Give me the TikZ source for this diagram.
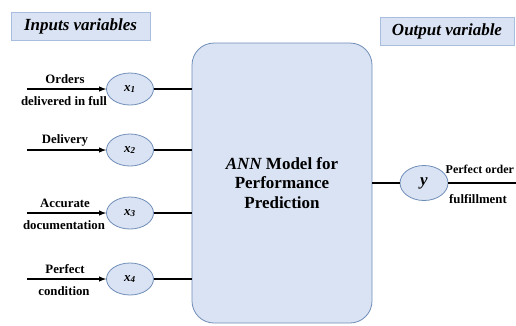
\documentclass[tikz,border=0pt]{standalone}
\usepackage{fontspec}
\setmainfont{Liberation Serif}
\usetikzlibrary{shapes.geometric}
\definecolor{paleblue}{HTML}{DAE3F3}
\definecolor{edgeblue}{HTML}{6F8DB8}
\definecolor{titleedge}{HTML}{A9BEDF}
\tikzset{
 titlebox/.style={draw=titleedge,fill=paleblue,line width=.6pt,
  minimum height=28pt,inner sep=0pt,font=\fontsize{17}{20}\selectfont\bfseries\itshape},
 varnode/.style={ellipse,draw=edgeblue,fill=paleblue,line width=.8pt,
  minimum width=47pt,minimum height=32pt,inner sep=0pt,
  font=\fontsize{13}{15}\selectfont\bfseries\itshape},
 modelbox/.style={draw=edgeblue,fill=paleblue,line width=.8pt,rounded corners=22pt,
  minimum width=180pt,minimum height=280pt,align=center,
  font=\fontsize{17}{19.5}\selectfont\bfseries},
 lbl/.style={font=\fontsize{12.8}{15}\selectfont\bfseries,inner sep=0pt}
}
\begin{document}
\begin{tikzpicture}[x=1pt,y=1pt,line width=1.4pt,>=latex,line cap=butt]
 \useasboundingbox (0,0) rectangle (516,-325);
 \node[titlebox,minimum width=139pt] (intitle) at (80.5,-26) {Inputs variables};
 \node[titlebox,minimum width=134pt] (outtitle) at (447,-31) {Output variable};
 \node[modelbox] (ann) at (282,-183)
  {{\itshape ANN} Model for\\Performance\\Prediction};
 % input variables
 \foreach \i/\yy/\above/\below in {1/89/Orders/delivered in full,
   2/150/Delivery/,3/213/Accurate/documentation,4/279/Perfect/condition}{
  \node[varnode] (x\i) at (130,-\yy) {x\textsubscript{\i}};
  \coordinate (in\i) at (27,-\yy);
  \draw[->] (in\i) -- (x\i);
  \draw (x\i) -- (x\i -| ann.west);
  \node[lbl] (top\i) at (65,-\yy+10) {\above};
  \node[lbl] (bot\i) at (64,-\yy-12) {\below};
 }
 % output variable
 \node[varnode,minimum width=48pt,minimum height=35pt,
  font=\fontsize{17}{20}\selectfont\bfseries\itshape] (y) at (424,-183) {y};
 \coordinate (out) at (516,-183);
 \draw (ann.east |- y) -- (y);
 \draw (y) -- (out);
 \node[lbl,anchor=west,font=\fontsize{12}{14}\selectfont\bfseries] (ytop)
  at (445,-169) {Perfect order};
 \node[lbl] (ybot) at (478,-199) {fulfillment};
\end{tikzpicture}
\end{document}
